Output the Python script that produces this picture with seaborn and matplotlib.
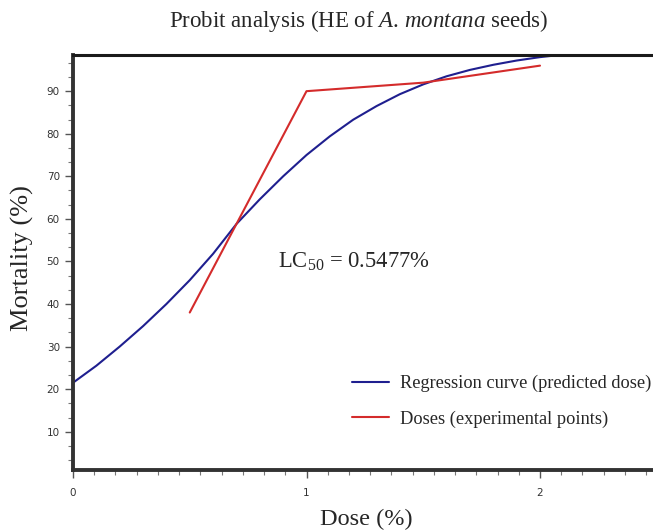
import numpy as np
import pandas as pd
import matplotlib
matplotlib.use("Agg")
import matplotlib.pyplot as plt
from matplotlib.ticker import MultipleLocator, AutoMinorLocator, FixedLocator
import seaborn as sns

# Data
reg_dose = [0.0, 0.1, 0.2, 0.3, 0.4, 0.5, 0.6, 0.7, 0.8, 0.9, 1.0, 1.1, 1.2, 1.3,
            1.4, 1.5, 1.6, 1.7, 1.8, 1.9, 2.0, 2.1]
reg_mort = [21.5, 25.5, 30.0, 34.8, 40.0, 45.6, 51.8, 58.8, 64.6, 70.0, 75.0, 79.4,
            83.3, 86.5, 89.3, 91.6, 93.5, 95.0, 96.2, 97.2, 98.0, 98.6]
exp_dose = [0.5, 1.0, 1.5, 2.0]
exp_mort = [38.0, 90.0, 92.0, 96.0]
x_ticks = [0, 1, 2]
y_ticks = [10, 20, 30, 40, 50, 60, 70, 80, 90]

sns.set_style("white")
plt.rcParams["font.family"] = ["Liberation Serif", "DejaVu Serif"]
plt.rcParams["mathtext.fontset"] = "custom"
plt.rcParams["mathtext.rm"] = "Liberation Serif"
plt.rcParams["mathtext.it"] = "Liberation Serif:italic"

W, H = 653, 531
fig = plt.figure(figsize=(W / 100, H / 100), dpi=100)
ax = fig.add_axes([73 / W, 1 - 470 / H, 1 - 73 / W, (470 - 55) / H])

df_reg = pd.DataFrame({"dose": reg_dose, "mort": reg_mort})
df_exp = pd.DataFrame({"dose": exp_dose, "mort": exp_mort})
sns.lineplot(data=df_reg, x="dose", y="mort", ax=ax, color="#1f1f8f", lw=1.5,
             label="Regression curve (predicted dose)", sort=False)
sns.lineplot(data=df_exp, x="dose", y="mort", ax=ax, color="#d42b2b", lw=1.5,
             label="Doses (experimental points)", sort=False)

ax.set_xlim(0, (W - 73) / 233.5)
ax.set_ylim(1.0, 98.5)

ax.xaxis.set_major_locator(FixedLocator(x_ticks))
ax.xaxis.set_minor_locator(MultipleLocator(1 / 11))
ax.yaxis.set_major_locator(FixedLocator(y_ticks))
ax.yaxis.set_minor_locator(AutoMinorLocator(3))
ax.tick_params(axis="both", which="both", bottom=True, left=True, top=False, right=False)
ax.tick_params(axis="both", which="major", direction="out", length=6, width=1,
               color="#555555", labelsize=7.5, labelcolor="#333333")
ax.tick_params(axis="both", which="minor", direction="out", length=3.5, width=0.8,
               color="#777777")
ax.tick_params(axis="x", which="major", pad=7)
for lab in ax.get_xticklabels() + ax.get_yticklabels():
    lab.set_fontfamily("DejaVu Sans")

for side in ["left", "bottom"]:
    ax.spines[side].set_linewidth(2.8)
    ax.spines[side].set_color("#333333")
ax.spines["top"].set_linewidth(2.2)
ax.spines["top"].set_color("#1a1a1a")
ax.spines["right"].set_visible(False)

ax.set_xlabel("")
ax.set_ylabel("")
fig.text(359 / W, 1 - 21 / H,
         r"Probit analysis (HE of $\mathit{A.\,montana}$ seeds)",
         ha="center", va="center", fontsize=16.5)
fig.text(22 / W, 1 - 258 / H, "Mortality (%)", rotation=90, ha="center", va="center",
         fontsize=19)
fig.text(366 / W, 1 - 519 / H, "Dose (%)", ha="center", va="center", fontsize=17.5)
fig.text(278 / W, 1 - 262 / H, r"LC$_{50}$ = 0.5477%", ha="left", va="center",
         fontsize=16.3)

ax.legend(frameon=False, loc="upper left", bbox_to_anchor=(352 / W, 1 - 375 / H),
          bbox_transform=fig.transFigure, fontsize=13.2, handlelength=2.0,
          labelspacing=1.0, handletextpad=0.6, borderpad=0, borderaxespad=0)

fig.savefig("out.png", dpi=100)
